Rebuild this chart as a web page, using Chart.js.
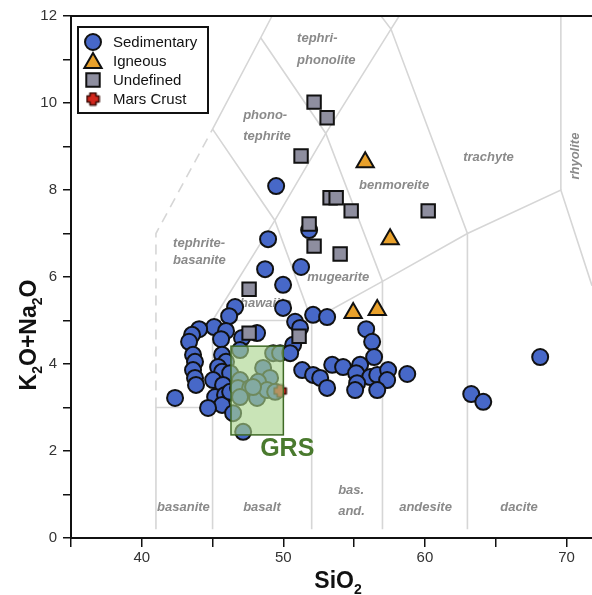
<!DOCTYPE html>
<html><head><meta charset="utf-8">
<script src="https://cdn.jsdelivr.net/npm/chart.js@4.4.0/dist/chart.umd.min.js"></script>
<style>html,body{margin:0;padding:0;background:#fff;}#wrap{width:592px;height:595px;}</style>
</head><body><div id="wrap"><canvas id="c" width="592" height="595"></canvas></div>
<script>
// ---------- DATA ----------
const sedimentary = [
 [49.49,8.09],[48.92,6.87],[51.82,7.08],[48.71,6.18],[51.25,6.23],[49.98,5.82],
 [46.59,5.31],[46.17,5.10],[45.11,4.85],[44.05,4.80],[45.95,4.76],[43.55,4.67],[43.34,4.51],[45.60,4.57],[47.08,4.60],
 [43.62,4.21],[43.76,4.05],[43.62,3.86],[43.76,3.68],[43.83,3.52],[45.67,4.21],[45.95,4.05],[45.39,3.93],[45.67,3.82],
 [46.24,3.79],[45.04,3.63],[45.74,3.52],[45.18,3.24],[45.88,3.29],[45.67,3.06],[44.68,2.99],[42.35,3.22],[46.24,3.36],
 [49.28,4.25],[49.77,4.25],[48.57,3.91],[49.06,3.68],[48.22,3.59],[46.94,3.63],[46.80,3.45],[47.65,3.45],[48.14,3.22],
 [46.94,3.24],[48.85,3.40],[49.42,3.36],[46.45,2.87],[47.16,2.44],[47.86,3.47],[46.94,4.32],
 [49.98,5.29],[52.10,5.13],[53.09,5.08],[50.83,4.97],[51.18,4.83],[48.14,4.71],[50.69,4.44],[50.48,4.25],[51.33,3.86],
 [52.10,3.75],[52.60,3.68],[53.09,3.45],[53.45,3.98],[54.22,3.93],[55.85,4.80],[56.27,4.51],[56.41,4.16],[55.42,3.98],
 [55.14,3.79],[56.13,3.70],[56.63,3.75],[57.40,3.86],[57.33,3.63],[58.75,3.77],[55.21,3.56],[55.07,3.40],[56.63,3.40],
 [63.27,3.31],[64.12,3.13],[68.14,4.16]
];
const igneous = [[55.78,8.64],[57.54,6.87],[54.93,5.17],[56.63,5.24]];
const undefinedSamples = [
 [52.17,10.02],[53.09,9.66],[51.25,8.78],[53.30,7.82],[53.73,7.82],[54.79,7.52],[60.23,7.52],
 [51.82,7.22],[52.17,6.71],[54.01,6.53],[47.58,5.72],[47.58,4.71],[51.11,4.64]
];
const marsCrust = [[49.77,3.38]];
const grsBox = [46.3, 50.0, 2.37, 4.41]; // xmin, xmax, ymin, ymax
const grsLabel = ['GRS', 48.36, 2.05];

// TAS field boundaries (SiO2, K2O+Na2O)
const boundariesSolid = [
 [[41,0.2],[41,3],[45,3]],
 [[45,0.2],[45,5],[52,5]],
 [[45,5],[49.4,7.3],[53,9.3],[57.6,11.7],[58.18,12]],
 [[45,9.4],[49.4,7.3],[52,5],[52,0.2]],
 [[45,9.4],[48.4,11.5],[49.2,12]],
 [[48.4,11.5],[53,9.3],[57,5.9],[57,0.2]],
 [[56.9,12],[57.6,11.7],[63,7],[63,0.2]],
 [[52,5],[57,5.9],[63,7],[69.6,8],[71.8,5.8]],
 [[69.6,8],[69.6,12]]
];
const boundariesDashed = [
 [[41,3],[41,7],[45,9.4]]
];
const fieldLabels = [
 ['tephri-',50.97,11.49],['phonolite',50.97,10.99],
 ['phono-',47.16,9.72],['tephrite',47.16,9.24],
 ['benmoreite',55.35,8.11],
 ['tephrite-',42.21,6.78],['basanite',42.21,6.37],
 ['mugearite',51.68,5.98],['hawaiite',46.94,5.40],
 ['trachyte',62.70,8.76],
 ['basanite',41.08,0.71],['basalt',47.16,0.71],
 ['bas.',53.87,1.10],['and.',53.87,0.62],
 ['andesite',58.18,0.71],['dacite',65.32,0.71]
];
const rotatedLabels = [['rhyolite',70.62,8.78]];
const xTickLabels = [40,50,60,70];
const yTickLabels = [0,2,4,6,8,10,12];
const legendNames = ['Sedimentary','Igneous','Undefined','Mars Crust'];

// ---------- STYLE ----------
const BLUE='#4768c8', ORANGE='#e9a12b', GREY='#8e8e9f', RED='#d3261c', EDGE='#111';
const FONT='"Liberation Sans", Arial, Helvetica, sans-serif';

function crossCanvas(size){
  const c=document.createElement('canvas'); c.width=size; c.height=size;
  const g=c.getContext('2d');
  const s=size, a=s*0.3, b=s*0.7, m=1.5;
  g.beginPath();
  g.moveTo(a,m); g.lineTo(b,m); g.lineTo(b,a); g.lineTo(s-m,a); g.lineTo(s-m,b); g.lineTo(b,b);
  g.lineTo(b,s-m); g.lineTo(a,s-m); g.lineTo(a,b); g.lineTo(m,b); g.lineTo(m,a); g.lineTo(a,a); g.closePath();
  g.fillStyle=RED; g.fill(); g.lineWidth=1.6; g.lineJoin='round'; g.strokeStyle='#3a0a05'; g.stroke();
  return c;
}
const marsImg = crossCanvas(15);

const toPts = arr => arr.map(p=>({x:p[0],y:p[1]}));
const lineSets = [];
boundariesSolid.forEach(b=>lineSets.push({type:'scatter',data:toPts(b),showLine:true,pointRadius:0,borderColor:'#d6d6d6',borderWidth:1.6,order:10,tension:0}));
boundariesDashed.forEach(b=>lineSets.push({type:'scatter',data:toPts(b),showLine:true,pointRadius:0,borderColor:'#d6d6d6',borderWidth:1.6,borderDash:[10,7],order:10,tension:0}));

const datasets = [
 {label:legendNames[0],data:toPts(sedimentary),pointStyle:'circle',pointRadius:8,pointBackgroundColor:BLUE,pointBorderColor:EDGE,pointBorderWidth:2,order:5},
 {label:legendNames[1],data:toPts(igneous),pointStyle:'triangle',pointRadius:10,pointBackgroundColor:ORANGE,pointBorderColor:EDGE,pointBorderWidth:2,order:3},
 {label:legendNames[2],data:toPts(undefinedSamples),pointStyle:'rect',pointRadius:9.5,pointBackgroundColor:GREY,pointBorderColor:EDGE,pointBorderWidth:2,order:4},
 {label:legendNames[3],data:toPts(marsCrust),pointStyle:marsImg,pointRadius:7,order:2},
 ...lineSets
];

const overlayPlugin = {
  id:'overlay',
  beforeDatasetsDraw(chart){
    const {ctx,scales:{x,y}}=chart;
    ctx.save();
    ctx.fillStyle='#8a8a8a';
    ctx.font='italic bold 13px '+FONT;
    ctx.textBaseline='middle'; ctx.textAlign='left';
    fieldLabels.forEach(l=>ctx.fillText(l[0],x.getPixelForValue(l[1]),y.getPixelForValue(l[2])));
    rotatedLabels.forEach(l=>{
      ctx.save(); ctx.translate(x.getPixelForValue(l[1]),y.getPixelForValue(l[2])); ctx.rotate(-Math.PI/2);
      ctx.textAlign='center'; ctx.fillText(l[0],0,0); ctx.restore();
    });
    ctx.restore();
  },
  afterDatasetsDraw(chart){
    const {ctx,scales:{x,y},chartArea}=chart;
    ctx.save();
    const x0=x.getPixelForValue(grsBox[0]), x1=x.getPixelForValue(grsBox[1]);
    const y0=y.getPixelForValue(grsBox[3]), y1=y.getPixelForValue(grsBox[2]);
    ctx.fillStyle='rgba(168,212,138,0.62)';
    ctx.fillRect(x0,y0,x1-x0,y1-y0);
    ctx.strokeStyle='#3f6a26'; ctx.lineWidth=1.5;
    ctx.strokeRect(x0,y0,x1-x0,y1-y0);
    ctx.fillStyle='#4a7a2e'; ctx.font='bold 25px '+FONT; ctx.textBaseline='middle'; ctx.textAlign='left';
    ctx.fillText(grsLabel[0],x.getPixelForValue(grsLabel[1]),y.getPixelForValue(grsLabel[2]));
    // top frame line
    ctx.strokeStyle='#111'; ctx.lineWidth=2;
    ctx.beginPath(); ctx.moveTo(chartArea.left,chartArea.top); ctx.lineTo(chart.width,chartArea.top); ctx.stroke();
    ctx.restore();
  },
  afterDraw(chart){
    const {ctx}=chart;
    ctx.save();
    // legend
    const lx=78, ly=27, lw=130, lh=86;
    ctx.fillStyle='#fff'; ctx.fillRect(lx,ly,lw,lh);
    ctx.strokeStyle='#111'; ctx.lineWidth=2; ctx.strokeRect(lx,ly,lw,lh);
    const rows=[42,61,80,99], mx=93;
    const styles=[
      {s:'circle',r:8,bg:BLUE},{s:'triangle',r:10,bg:ORANGE},{s:'rect',r:9.5,bg:GREY},{s:marsImg,r:7}
    ];
    styles.forEach((st,i)=>{
      ctx.fillStyle=st.bg||RED; ctx.strokeStyle=EDGE; ctx.lineWidth=2;
      Chart.helpers.drawPoint(ctx,{pointStyle:st.s,radius:st.r,rotation:0,borderWidth:2},mx,rows[i]+(i===1?2:0));
      ctx.fillStyle='#111'; ctx.font='15px '+FONT; ctx.textBaseline='middle'; ctx.textAlign='left';
      ctx.fillText(legendNames[i],113,rows[i]+1);
    });
    // axis titles with subscripts
    function drawParts(parts,cx,cy){
      const big='bold 23px '+FONT, small='bold 14px '+FONT;
      let w=0; parts.forEach(p=>{ctx.font=p[1]?small:big; w+=ctx.measureText(p[0]).width;});
      let px=cx-w/2;
      ctx.textBaseline='alphabetic'; ctx.textAlign='left'; ctx.fillStyle='#111';
      parts.forEach(p=>{ctx.font=p[1]?small:big; ctx.fillText(p[0],px,cy+(p[1]?6:0)); px+=ctx.measureText(p[0]).width;});
    }
    drawParts([['SiO',false],['2',true]],338,588);
    ctx.save(); ctx.translate(36,335); ctx.rotate(-Math.PI/2);
    drawParts([['K',false],['2',true],['O+Na',false],['2',true],['O',false]],0,0);
    ctx.restore();
    ctx.restore();
  }
};

new Chart(document.getElementById('c'),{
  type:'scatter',
  data:{datasets},
  options:{
    responsive:false, animation:false, devicePixelRatio:1,
    layout:{autoPadding:false,padding:{top:16,right:0,left:0,bottom:0}},
    plugins:{legend:{display:false},tooltip:{enabled:false}},
    elements:{line:{tension:0}},
    scales:{
      x:{type:'linear',min:35,max:71.8,
        afterFit(s){s.height=57; s.paddingLeft=0; s.paddingRight=0;},
        ticks:{stepSize:5,includeBounds:false,autoSkip:false,maxRotation:0,padding:2,color:'#333',font:{size:15,family:FONT},
          callback:v=>xTickLabels.includes(v)?String(v):''},
        grid:{drawOnChartArea:false,drawTicks:true,tickLength:9,color:'#111',lineWidth:1.5},
        border:{color:'#111',width:2}
      },
      y:{type:'linear',min:0,max:12,
        afterFit(s){s.width=71; s.paddingTop=0; s.paddingBottom=0;},
        ticks:{stepSize:1,autoSkip:false,padding:6,color:'#333',font:{size:15,family:FONT},
          callback:v=>yTickLabels.includes(v)?String(v):''},
        grid:{drawOnChartArea:false,drawTicks:true,tickLength:8,color:'#111',lineWidth:1.5},
        border:{color:'#111',width:2}
      }
    }
  },
  plugins:[overlayPlugin]
});
</script></body></html>
